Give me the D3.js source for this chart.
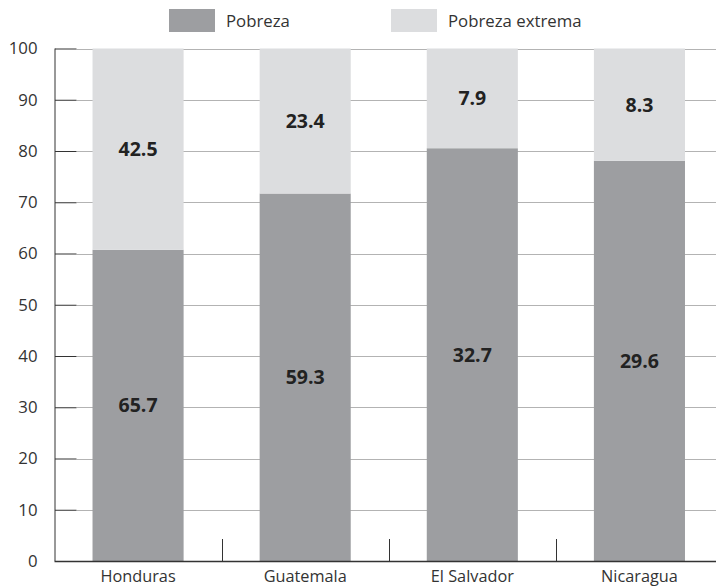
<!DOCTYPE html>
<html>
<head>
<meta charset="utf-8">
<script src="https://cdn.jsdelivr.net/npm/d3@7/dist/d3.min.js"></script>
<style>
  html, body { margin: 0; padding: 0; background: #fff; }
  svg { display: block; font-family: "Open Sans", "Noto Sans", sans-serif; }
</style>
</head>
<body>
<svg id="chart" width="716" height="587"></svg>
<script>
// Countries and the two poverty figures (labels show the raw values,
// bars show each figure's share of the country total).
const countries = ["Honduras", "Guatemala", "El Salvador", "Nicaragua"];
const pobreza = [65.7, 59.3, 32.7, 29.6];
const pobrezaExtrema = [42.5, 23.4, 7.9, 8.3];
const seriesNames = ["Pobreza", "Pobreza extrema"];
const yTicks = [0, 10, 20, 30, 40, 50, 60, 70, 80, 90, 100];

const colors = ["#9d9ea1", "#dcdddf"];
const textColor = "#333";

const svg = d3.select("#chart");
const margin = { left: 54.5, right: -7, top: 48.5, bottom: 26 };
const W = 716, H = 587;

const x = d3.scaleBand()
  .domain(countries)
  .range([margin.left, W - margin.right])
  .paddingInner(0.455)
  .paddingOuter(0.2275);

const y = d3.scaleLinear()
  .domain([0, 100])
  .range([H - margin.bottom, margin.top]);

const rows = countries.map((c, i) => ({
  country: c,
  "Pobreza": pobreza[i],
  "Pobreza extrema": pobrezaExtrema[i]
}));

const stacked = d3.stack()
  .keys(seriesNames)
  .offset(d3.stackOffsetExpand)(rows);

// Gridlines
const grid = svg.append("g");
grid.selectAll("line")
  .data(yTicks.filter(t => t > 0))
  .join("line")
  .attr("x1", margin.left + 22)
  .attr("x2", W)
  .attr("y1", d => Math.round(y(d)) + 0.5)
  .attr("y2", d => Math.round(y(d)) + 0.5)
  .attr("stroke", "#b3b3b3")
  .attr("stroke-width", 1);

// Stacked bars
const layers = svg.append("g")
  .selectAll("g")
  .data(stacked)
  .join("g")
  .attr("fill", (d, i) => colors[i]);

layers.selectAll("rect")
  .data(d => d.map(v => ({ v, key: d.key })))
  .join("rect")
  .attr("x", d => x(d.v.data.country))
  .attr("width", x.bandwidth())
  .attr("y", d => y(d.v[1] * 100))
  .attr("height", d => y(d.v[0] * 100) - y(d.v[1] * 100));

// Value labels
layers.selectAll("text")
  .data(d => d.map(v => ({ v, key: d.key })))
  .join("text")
  .attr("x", d => x(d.v.data.country) + x.bandwidth() / 2)
  .attr("y", d => (y(d.v[0] * 100) + y(d.v[1] * 100)) / 2)
  .attr("dy", "0.36em")
  .attr("text-anchor", "middle")
  .attr("fill", "#222")
  .attr("font-size", 19.5)
  .attr("font-weight", 700)
  .text(d => d.v.data[d.key].toFixed(1));

// Y axis
const yAxis = svg.append("g")
  .attr("transform", `translate(${margin.left},0)`)
  .call(d3.axisLeft(y).tickValues(yTicks).tickSize(-22).tickFormat(d3.format("d")));
yAxis.attr("font-size", null).attr("font-family", null);
yAxis.select(".domain").attr("stroke", textColor).attr("d", `M0.5,${y(100)}V${y(0)}`);
yAxis.selectAll(".tick line").attr("stroke", textColor).attr("x1", 0.5).attr("x2", 22);
yAxis.selectAll(".tick text")
  .attr("fill", textColor)
  .attr("font-size", 16.8)
  .attr("x", -17);

// X axis
const xAxis = svg.append("g");
xAxis.append("line")
  .attr("x1", margin.left).attr("x2", W)
  .attr("y1", y(0) + 0.5).attr("y2", y(0) + 0.5)
  .attr("stroke", textColor).attr("stroke-width", 1.5);

// Category separators between bands
const step = x.step();
xAxis.selectAll("line.sep")
  .data(countries.slice(1))
  .join("line")
  .attr("class", "sep")
  .attr("x1", d => Math.round(x(d) - x.paddingInner() * step / 2) + 0.5)
  .attr("x2", d => Math.round(x(d) - x.paddingInner() * step / 2) + 0.5)
  .attr("y1", y(0) - 22)
  .attr("y2", y(0))
  .attr("stroke", textColor);

xAxis.selectAll("text")
  .data(countries)
  .join("text")
  .attr("x", d => x(d) + x.bandwidth() / 2)
  .attr("y", 581.5)
  .attr("text-anchor", "middle")
  .attr("fill", textColor)
  .attr("font-size", 16.3)
  .text(d => d);

// Legend
const legend = svg.append("g");
const legendX = [169, 391];
seriesNames.forEach((name, i) => {
  legend.append("rect")
    .attr("x", legendX[i]).attr("y", 9)
    .attr("width", 46).attr("height", 23)
    .attr("fill", colors[i]);
  legend.append("text")
    .attr("x", legendX[i] + 57).attr("y", 27)
    .attr("fill", textColor)
    .attr("font-size", 16.8)
    .text(name);
});
</script>
</body>
</html>
